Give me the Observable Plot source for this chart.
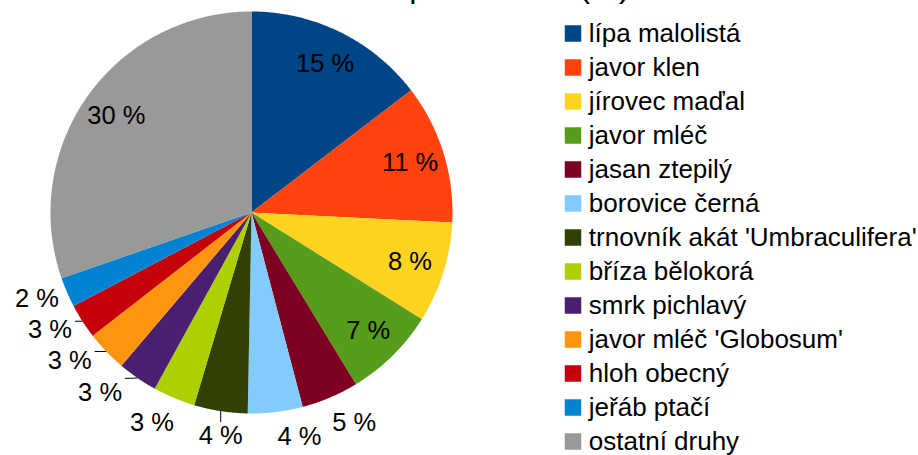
<!DOCTYPE html>
<html>
<head>
<meta charset="utf-8">
<script src="https://cdn.jsdelivr.net/npm/d3@7"></script>
<script src="https://cdn.jsdelivr.net/npm/@observablehq/plot@0.6"></script>
<style>
  html, body { margin: 0; padding: 0; width: 918px; height: 455px; overflow: hidden; background: #fff; }
  body { position: relative; font-family: "Liberation Sans", Arial, sans-serif; color: #000; }
  #title { position: absolute; left: 310px; top: -30.5px; font-size: 32.5px; line-height: 32.5px; white-space: nowrap; }
  #pie { position: absolute; left: 0; top: 0; }
  #legend { position: absolute; left: 550px; top: 0; }
  svg { overflow: visible; }
</style>
</head>
<body>
<div id="title">Zastoupení dřevin (%)</div>
<div id="pie"></div>
<div id="legend"></div>
<script>
// ---- data ----
const species = [
  "lípa malolistá", "javor klen", "jírovec maďal", "javor mléč", "jasan ztepilý",
  "borovice černá", "trnovník akát 'Umbraculifera'", "bříza bělokorá", "smrk pichlavý",
  "javor mléč 'Globosum'", "hloh obecný", "jeřáb ptačí", "ostatní druhy"
];
const shares = [14.6, 11.2, 8.1, 7.4, 4.6, 4.4, 4.3, 3.4, 3.2, 3.3, 2.8, 2.4, 30.3];
const palette = [
  "#004586", "#ff420e", "#ffd320", "#579d1c", "#7e0021", "#83caff", "#314004",
  "#aecf00", "#4b1f6f", "#ff950e", "#c5000b", "#0084d1", "#999999"
];

// ---- layout ----
const cx = 251, cy = 212, R = 201;
const labelFont = 25.5, capH = 0.716 * labelFont;
const legendFont = 26;

const arcs = d3.pie().sort(null).value(d => d)(shares);

// slice polygons in unit-circle coordinates (y up)
const slicePts = [];
arcs.forEach((a, i) => {
  slicePts.push({name: species[i], x: 0, y: 0});
  const n = Math.max(2, Math.ceil((a.endAngle - a.startAngle) / (Math.PI / 360)));
  for (let k = 0; k <= n; k++) {
    const t = a.startAngle + (a.endAngle - a.startAngle) * k / n;
    slicePts.push({name: species[i], x: Math.sin(t), y: Math.cos(t)});
  }
});

// labels
const ctx = document.createElement("canvas").getContext("2d");
ctx.font = `${labelFont}px "Liberation Sans"`;
const toX = px => (px - cx) / R, toY = py => (cy - py) / R;
const insideLabels = [], outsideLabels = [], leaders = [];
const placed = [];
const PX = 8, PY = 13;
arcs.forEach((a, i) => {
  const mid = (a.startAngle + a.endAngle) / 2;
  const text = `${Math.round(shares[i])} %`;
  if (shares[i] >= 6) {
    insideLabels.push({text, x: 0.826 * Math.sin(mid), y: 0.826 * Math.cos(mid)});
    return;
  }
  const sx = Math.sin(mid), sy = -Math.cos(mid);
  const w = ctx.measureText(text).width, h = capH;
  const ex = cx + R * sx, ey = cy + R * sy;
  const centered = sx >= -0.2 && sx <= 0.1;
  let left = sx > 0.1 ? ex + 2 : sx < -0.2 ? ex - w : ex - w / 2;
  let top = sy > 0.3 ? ey + 15 : sy < -0.3 ? ey - 15 - h : ey - h / 2;
  const ux = Math.cos(mid), uy = Math.sin(mid);
  let moved = 0;
  for (let it = 0; it < 100; it++) {
    const hit = placed.find(b => left < b.right + PX && left + w > b.left - PX && top < b.bottom + PY && top + h > b.top - PY);
    if (!hit) break;
    const c = [];
    if (ux > 1e-6) c.push((hit.right + PX - left) / ux);
    if (ux < -1e-6) c.push((left + w - (hit.left - PX)) / -ux);
    if (uy > 1e-6) c.push((hit.bottom + PY - top) / uy);
    if (uy < -1e-6) c.push((top + h - (hit.top - PY)) / -uy);
    const t = Math.min(...c.filter(v => v > 0)) + 0.01;
    left += ux * t; top += uy * t; moved += t;
  }
  placed.push({left, right: left + w, top, bottom: top + h});
  outsideLabels.push({text, x: toX(left), y: toY(top)});
  const nx = Math.max(left - 3, Math.min(ex, left + w + 3));
  const ny = Math.max(top - 4, Math.min(ey, top + h + 4));
  const dist = Math.hypot(nx - ex, ny - ey);
  if ((moved > 3 && dist > 6) || centered) {
    leaders.push({x1: toX(ex), y1: toY(ey), x2: toX(nx), y2: toY(ny)});
  }
});

const color = {domain: species, range: palette};

const pie = Plot.plot({
  width: 470, height: 455, margin: 0,
  x: {domain: [-1, 1], range: [cx - R, cx + R], axis: null},
  y: {domain: [-1, 1], range: [cy + R, cy - R], axis: null},
  color,
  style: {fontFamily: '"Liberation Sans", Arial, sans-serif', background: "transparent"},
  marks: [
    Plot.line(slicePts, {x: "x", y: "y", z: "name", fill: "name", stroke: null, curve: "linear-closed"}),
    Plot.link(leaders, {x1: "x1", y1: "y1", x2: "x2", y2: "y2", stroke: "#000", strokeWidth: 1}),
    Plot.text(insideLabels, {x: "x", y: "y", text: "text", fontSize: labelFont, fill: "#000", textAnchor: "middle", lineAnchor: "middle"}),
    Plot.text(outsideLabels, {x: "x", y: "y", text: "text", fontSize: labelFont, fill: "#000", textAnchor: "start", lineAnchor: "top"})
  ]
});
document.getElementById("pie").appendChild(pie);

const step = 34.36;
const legend = Plot.plot({
  width: 368, height: 455, margin: 0,
  x: {axis: null},
  y: {type: "band", domain: species, range: [31 - step / 2, 31 + step * 12.5], padding: 0, axis: null},
  color,
  style: {fontFamily: '"Liberation Sans", Arial, sans-serif', background: "transparent"},
  marks: [
    Plot.dot(species, {y: d => d, frameAnchor: "left", dx: 22.5, symbol: "square", r: 9.3, fill: d => d, stroke: null}),
    Plot.text(species, {y: d => d, frameAnchor: "left", dx: 38.3, text: d => d, textAnchor: "start", lineAnchor: "middle", fontSize: legendFont, fill: "#000"})
  ]
});
document.getElementById("legend").appendChild(legend);
</script>
</body>
</html>
